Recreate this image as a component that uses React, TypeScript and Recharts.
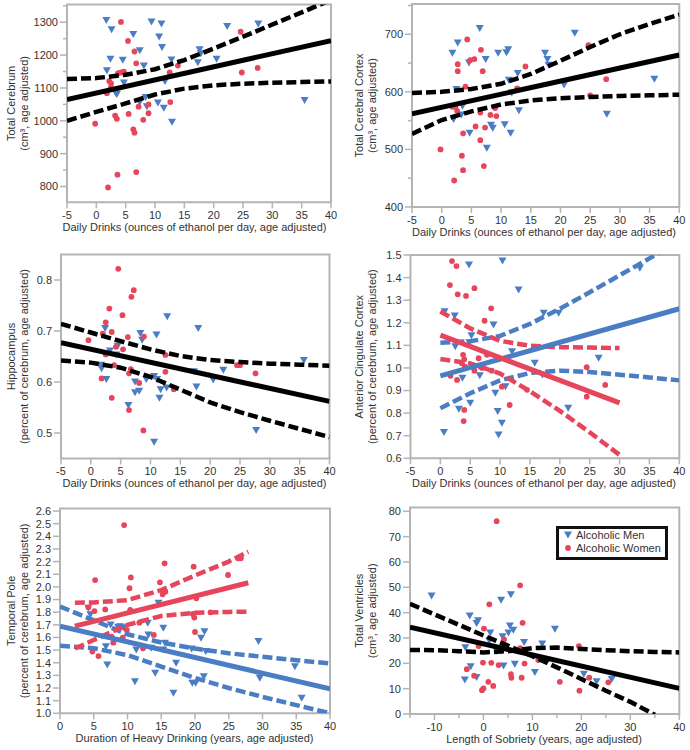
import React from 'react';
import { ScatterChart, Scatter, XAxis, YAxis, ReferenceArea } from 'recharts';

const FONT = '"Liberation Sans", Arial, Helvetica, sans-serif';
const AXIS = '#b4b4b4';
const TXT = '#333333';
const BLUE = '#4a7dc4';
const RED = '#e6455b';
const BLACK = '#000000';

// ---------- Panel 1: Total Cerebrum ----------
const p1Men = [[1.7,1305],[2.6,1277],[2.4,1187],[1.8,1152],[3.3,1084],[3.5,1080],[4.5,1184],[4.7,1115],[6.3,1263],[7.4,1213],[8.1,1167],[7.4,1056],[8.4,1071],[8.6,1043],[9.4,1301],[10.7,1255],[11.1,1295],[11.2,1223],[10.5,1054],[11.5,1038],[11.7,1120],[12.8,1185],[12.9,996],[17.3,1177],[17.6,1216],[17.8,1204],[20.5,1187],[22.3,1287],[27.6,1295],[35.5,1062]];
const p1Women = [[4.2,1301],[5.4,1243],[6.5,1211],[6.8,1175],[3.7,1145],[4.2,1147],[4.7,1150],[2.2,1121],[2.5,1114],[2.5,1102],[1.8,1084],[-0.2,991],[3.2,1016],[3.5,1006],[5.5,1021],[7.2,1043],[8.9,1050],[8.9,1023],[8.0,1003],[6.3,974],[6.5,964],[3.6,836],[6.8,844],[2.0,797],[12.5,1147],[12.6,1057],[13.9,1168],[24.6,1271],[24.8,1147],[27.5,1161]];
const p1Fit = [[-5,1065],[40,1244]];
const p1Upper = [[-5,1127],[0,1130],[5,1140],[10,1157],[15,1185],[20,1220],[25,1256],[30,1293],[35,1330],[40,1368]];
const p1Lower = [[-5,1000],[0,1027],[5,1053],[10,1080],[15,1098],[20,1108],[25,1113],[30,1116],[35,1118],[40,1120]];
const p1XTicks = [-5,0,5,10,15,20,25,30,35,40];
const p1YTicks = [800,900,1000,1100,1200,1300];
const p1YMinor = [850,950,1050,1150,1250,1350];

// ---------- Panel 2: Total Cerebral Cortex ----------
const p2Men = [[1.8,667],[2.7,685],[2.5,604],[2.0,552],[3.5,575],[3.3,560],[4.6,650],[4.7,528],[6.4,710],[7.4,656],[7.6,502],[9.5,667],[8.3,542],[8.6,537],[10.9,668],[11.2,673],[11.3,620],[10.6,543],[11.6,528],[11.8,598],[12.8,632],[13.0,567],[17.4,667],[17.8,656],[18.0,646],[20.6,612],[22.4,702],[27.8,561],[35.8,622]];
const p2Women = [[4.3,691],[6.6,673],[5.5,657],[4.8,655],[2.7,648],[2.7,636],[6.9,636],[4.0,609],[1.8,574],[2.3,574],[2.6,567],[6.5,564],[3.6,528],[5.7,540],[7.3,538],[8.2,560],[9.0,572],[9.2,558],[6.5,516],[-0.2,500],[3.4,489],[3.6,464],[7.1,471],[2.1,446],[12.7,606],[14.1,644],[24.7,681],[25.0,594],[27.7,622]];
const p2Fit = [[-5,562],[40,664]];
const p2Upper = [[-5,598],[0,600],[5,605],[10,614],[15,631],[20,654],[25,678],[30,700],[35,718],[40,734]];
const p2Lower = [[-5,527],[0,551],[5,566],[10,578],[15,585],[20,589],[25,591],[30,593],[35,594],[40,595]];
const p2XTicks = [-5,0,5,10,15,20,25,30,35,40];
const p2YTicks = [400,500,600,700];
const p2YMinor = [450,550,650,750];

// ---------- Panel 3: Hippocampus ----------
const p3Men = [[2.4,0.705],[1.7,0.633],[1.8,0.626],[2.6,0.605],[3.2,0.661],[4.5,0.670],[4.3,0.653],[6.3,0.554],[7.4,0.600],[7.4,0.579],[8.1,0.582],[8.3,0.695],[8.6,0.682],[9.3,0.605],[10.6,0.611],[11.1,0.605],[11.0,0.692],[11.5,0.568],[11.7,0.585],[12.7,0.588],[12.8,0.728],[10.6,0.482],[17.3,0.620],[17.7,0.590],[18.0,0.705],[20.5,0.604],[22.2,0.623],[27.7,0.505],[35.7,0.642]];
const p3Women = [[4.6,0.822],[7.2,0.780],[6.8,0.767],[3.1,0.744],[5.3,0.731],[2.5,0.717],[3.5,0.698],[2.0,0.695],[-0.4,0.682],[6.2,0.688],[8.9,0.689],[4.2,0.669],[5.4,0.664],[2.5,0.654],[3.9,0.633],[6.7,0.625],[6.4,0.617],[1.8,0.607],[8.1,0.598],[3.5,0.569],[6.4,0.545],[8.8,0.505],[12.5,0.653],[12.5,0.620],[13.9,0.586],[24.5,0.633],[25.0,0.633],[27.6,0.617]];
const p3Fit = [[-5,0.677],[40,0.562]];
const p3Upper = [[-5,0.714],[0,0.697],[5,0.680],[10,0.664],[15,0.651],[20,0.643],[25,0.639],[30,0.636],[35,0.634],[40,0.632]];
const p3Lower = [[-5,0.642],[0,0.638],[5,0.628],[10,0.610],[15,0.585],[20,0.560],[25,0.541],[30,0.524],[35,0.508],[40,0.492]];
const p3XTicks = [-5,0,5,10,15,20,25,30,35,40];
const p3YTicks = [0.5,0.6,0.7,0.8];

// ---------- Panel 4: Anterior Cingulate Cortex ----------
const p4Men = [[0.6,0.714],[0.7,1.249],[2.4,1.230],[2.5,1.094],[3.1,0.817],[3.7,0.954],[4.8,1.456],[5.0,0.844],[5.2,1.142],[4.85,1.112],[6.6,0.965],[8.9,1.19],[9.2,0.888],[9.6,0.807],[9.75,0.703],[10.3,0.755],[10.4,1.473],[10.9,0.917],[12.0,1.072],[13.1,1.345],[15.8,1.021],[17.3,1.242],[17.1,0.969],[19.8,1.242],[21.4,0.822],[26.5,1.043],[33.4,1.441]];
const p4Women = [[1.95,1.473],[2.7,1.451],[1.6,1.367],[2.9,1.326],[4.3,1.319],[5.7,1.353],[8.5,1.264],[7.4,1.209],[3.8,1.058],[4.0,1.038],[3.6,1.021],[4.1,1.006],[5.7,0.988],[6.7,1.006],[6.4,1.043],[7.0,1.0],[7.8,1.058],[8.6,0.988],[1.7,0.965],[2.8,0.947],[4.0,0.814],[3.9,0.765],[10.3,0.917],[11.6,0.836],[14.5,0.903],[24.5,1.003],[24.5,0.873],[27.6,0.925]];
const p4MenFit = [[0,0.965],[40,1.262]];
const p4MenUpper = [[0,1.112],[5,1.118],[10,1.142],[15,1.195],[20,1.262],[25,1.335],[30,1.41],[35,1.485],[40,1.56]];
const p4MenLower = [[0,0.822],[5,0.888],[10,0.945],[15,0.978],[20,0.988],[25,0.982],[30,0.97],[35,0.958],[40,0.945]];
const p4WomenFit = [[0,1.145],[30,0.845]];
const p4WomenUpper = [[0,1.25],[5,1.175],[10,1.12],[15,1.098],[20,1.092],[25,1.09],[30,1.088]];
const p4WomenLower = [[0,1.04],[5,1.02],[10,0.975],[15,0.897],[20,0.81],[25,0.715],[30,0.615]];
const p4XTicks = [-5,0,5,10,15,20,25,30,35,40];
const p4YTicks = [0.6,0.7,0.8,0.9,1.0,1.1,1.2,1.3,1.4,1.5];

// ---------- Panel 5: Temporal Pole ----------
const p5Men = [[4.2,1.83],[4.5,1.78],[6.0,1.725],[7.5,1.699],[8.6,1.68],[8.9,1.685],[9.4,1.677],[6.8,1.527],[7.0,1.382],[11.1,1.25],[11.3,1.5],[13.0,1.712],[13.1,1.62],[13.5,1.514],[14.1,1.316],[14.6,1.87],[15.3,1.672],[15.55,1.554],[15.3,1.5],[16.8,1.158],[17.2,1.395],[19.5,1.509],[19.6,1.237],[20.1,1.237],[20.9,1.593],[21.4,1.646],[21.6,1.488],[21.3,1.29],[29.4,1.567],[29.6,1.277],[34.8,1.369],[35.8,1.119]];
const p5Women = [[9.5,2.489],[15.5,2.186],[19.8,2.16],[5.2,2.054],[10.5,2.075],[10.3,1.989],[14.8,2.036],[24.9,2.094],[26.4,2.226],[26.8,2.226],[15.2,1.941],[15.6,1.962],[20.2,1.91],[4.2,1.838],[5.1,1.809],[6.7,1.822],[10.4,1.817],[19.7,1.786],[19.9,1.757],[22.3,1.799],[11.75,1.717],[7.65,1.606],[9.3,1.598],[7.9,1.559],[13.9,1.62],[20.0,1.643],[12.3,1.514],[4.8,1.488],[5.7,1.453],[9.9,1.659]];
const p5MenFit = [[0,1.69],[40,1.193]];
const p5MenUpper = [[0,1.845],[5,1.735],[10,1.625],[15,1.56],[20,1.512],[25,1.475],[30,1.447],[35,1.42],[40,1.395]];
const p5MenLower = [[0,1.535],[5,1.515],[10,1.46],[15,1.37],[20,1.28],[25,1.2],[30,1.13],[35,1.065],[40,1.0]];
const p5WomenFit = [[2.2,1.69],[27.9,2.033]];
const p5WomenUpper = [[2.2,1.875],[5,1.877],[10,1.895],[15,1.975],[20,2.09],[25,2.2],[27.9,2.278]];
const p5WomenLower = [[2.2,1.512],[5,1.58],[10,1.70],[15,1.77],[20,1.795],[25,1.802],[27.9,1.804]];
const p5XTicks = [0,5,10,15,20,25,30,35,40];
const p5YTicks = [1.0,1.1,1.2,1.3,1.4,1.5,1.6,1.7,1.8,1.9,2.0,2.1,2.2,2.3,2.4,2.5,2.6];

// ---------- Panel 6: Total Ventricles ----------
const p6Men = [[-10.6,46.6],[-2.8,38.7],[-1.1,36.8],[-1.4,35.7],[-3.7,26.1],[-3.8,13.4],[-2.6,18.6],[-1.4,14.4],[-0.9,26.9],[1.4,32.0],[1.2,28.9],[2.7,24.8],[3.6,44.9],[3.9,30.5],[3.7,24.9],[4.1,18.9],[5.6,47.1],[5.4,34.7],[5.1,32.0],[6.1,33.1],[6.4,19.6],[8.3,28.2],[10.5,16.4],[12.0,27.6],[14.6,33.4],[20.5,15.7],[23.1,12.7],[26.2,13.6]];
const p6Women = [[2.7,76.1],[7.5,50.8],[1.2,43.3],[8.0,36.0],[0.1,33.7],[4.2,29.4],[7.5,26.0],[-1.0,26.8],[19.5,26.8],[-3.4,17.7],[-1.9,15.1],[-0.1,20.3],[1.6,20.2],[3.1,19.3],[8.4,19.9],[11.2,21.3],[12.9,21.3],[5.6,15.7],[5.7,14.3],[7.8,14.3],[1.0,12.7],[2.0,11.1],[0.0,10.1],[-0.3,9.4],[15.6,12.7],[19.6,9.2],[21.6,14.3],[25.5,12.5]];
const p6Fit = [[-15,34.3],[40,10.1]];
const p6BandA = [[-15,43.5],[-10,39.3],[-5,35.2],[0,31.0],[5,27.0],[10,22.8],[15,18.4],[20,13.8],[25,9.2],[30,4.8],[35,-0.3]];
const p6BandB = [[-15,25.3],[-10,25.2],[-5,24.8],[0,24.3],[5,24.8],[10,26.0],[15,26.2],[20,25.7],[25,25.2],[30,24.8],[35,24.5],[40,24.3]];
const p6XTicks = [-10,0,10,20,30,40];
const p6XMinor = [-15,-5,5,15,25,35];
const p6YTicks = [0,10,20,30,40,50,60,70,80];

const legendLabels = ['Alcoholic Men', 'Alcoholic Women'];

// ---------- helpers ----------
const toPts = (a: number[][]) => a.map(([x, y]) => ({ x, y }));
const isIn = (arr: number[], v: number) => arr.some((m) => Math.abs(m - v) < 1e-9);

const Tri = (p: any) => (
  <path d={`M${p.cx - 4},${p.cy - 3.5}L${p.cx + 4},${p.cy - 3.5}L${p.cx},${p.cy + 3.5}Z`} fill={BLUE} />
);
const Dot = (p: any) => <circle cx={p.cx} cy={p.cy} r={2.9} fill={RED} />;
const NoShape = () => <g />;

type LineDef = { data: number[][]; color: string; dashed: boolean };
type PanelCfg = {
  left: number; top: number; pl: number; pr: number; pt: number; pb: number;
  xDomain: [number, number]; yDomain: [number, number];
  xTicks: number[]; xMinor: number[]; yTicks: number[]; yMinor: number[]; yDec: number;
  xLabel: string; yLabel1: string; yLabel2: string; ylx1: number; ylx2: number; xlc: number;
  men: number[][]; women: number[][]; lines: LineDef[];
};

const W = 345;
const H = 250;

function Panel({ c }: { c: PanelCfg }) {
  const xTick = (p: any) => {
    const v = p.payload.value;
    const major = isIn(c.xTicks, v);
    return (
      <g>
        <line x1={p.x} x2={p.x} y1={p.y} y2={p.y + (major ? 6 : 4)} stroke={AXIS} strokeWidth={1.5} />
        {major && (
          <text x={p.x} y={p.y + 16.5} textAnchor="middle" fontSize={11} fontFamily={FONT} fill={TXT}>
            {String(v)}
          </text>
        )}
      </g>
    );
  };
  const yTick = (p: any) => {
    const v = p.payload.value;
    const major = isIn(c.yTicks, v);
    return (
      <g>
        <line x1={p.x} x2={p.x - (major ? 7 : 4)} y1={p.y} y2={p.y} stroke={AXIS} strokeWidth={1.5} />
        {major && (
          <text x={p.x - 9} y={p.y} dy="0.36em" textAnchor="end" fontSize={11} fontFamily={FONT} fill={TXT}>
            {v.toFixed(c.yDec)}
          </text>
        )}
      </g>
    );
  };
  const xLabel = () => (
    <text x={c.xlc} y={c.pb + 28.5} textAnchor="middle" fontSize={11} fontFamily={FONT} fill={TXT}>
      {c.xLabel}
    </text>
  );
  const cy = (c.pt + c.pb) / 2;
  const yLabel = () => (
    <g>
      <text x={c.ylx1} y={cy} transform={`rotate(-90 ${c.ylx1} ${cy})`} textAnchor="middle" fontSize={11} fontFamily={FONT} fill={TXT}>
        {c.yLabel1}
      </text>
      <text x={c.ylx2} y={cy} transform={`rotate(-90 ${c.ylx2} ${cy})`} textAnchor="middle" fontSize={11} fontFamily={FONT} fill={TXT}>
        {c.yLabel2}
      </text>
    </g>
  );
  const allX = [...c.xTicks, ...c.xMinor].sort((a, b) => a - b);
  const allY = [...c.yTicks, ...c.yMinor].filter((v) => v >= c.yDomain[0] && v <= c.yDomain[1]).sort((a, b) => a - b);
  return (
    <div style={{ position: 'absolute', left: c.left, top: c.top, width: W, height: H }}>
      <ScatterChart width={W} height={H} margin={{ top: c.pt, right: W - c.pr, bottom: 0, left: 0 }}>
        <XAxis
          type="number" dataKey="x" domain={c.xDomain} allowDataOverflow ticks={allX} interval={0}
          tickSize={0} tickMargin={0} tickLine={false} axisLine={false} height={H - c.pb}
          tick={xTick} label={xLabel}
        />
        <YAxis
          type="number" dataKey="y" domain={c.yDomain} allowDataOverflow ticks={allY} interval={0}
          tickSize={0} tickMargin={0} tickLine={false} axisLine={false} width={c.pl}
          tick={yTick} label={yLabel}
        />
        <ReferenceArea
          x1={c.xDomain[0]} x2={c.xDomain[1]} y1={c.yDomain[0]} y2={c.yDomain[1]}
          fill="none" fillOpacity={0} stroke={AXIS} strokeWidth={2} ifOverflow="visible"
        />
        <Scatter data={toPts(c.men)} shape={Tri} isAnimationActive={false} legendType="none" />
        <Scatter data={toPts(c.women)} shape={Dot} isAnimationActive={false} legendType="none" />
        {c.lines.map((l, i) => (
          <Scatter
            key={i}
            data={toPts(l.data)}
            shape={NoShape}
            line={l.dashed
              ? { stroke: l.color, strokeWidth: 4.5, strokeDasharray: '10 4', fill: 'none' }
              : { stroke: l.color, strokeWidth: 5, fill: 'none' }}
            fill={l.color}
            isAnimationActive={false}
            legendType="none"
          />
        ))}
      </ScatterChart>
    </div>
  );
}

const DAILY = 'Daily Drinks (ounces of ethanol per day, age adjusted)';

const panels: PanelCfg[] = [
  {
    left: 0, top: 0, pl: 67, pr: 331, pt: 4.5, pb: 202.3, xDomain: [-5, 40], yDomain: [752, 1354],
    xTicks: p1XTicks, xMinor: [], yTicks: p1YTicks, yMinor: p1YMinor, yDec: 0,
    xLabel: DAILY, yLabel1: 'Total Cerebrum', yLabel2: '(cm³, age adjusted)', ylx1: 15, ylx2: 28, xlc: 194.5,
    men: p1Men, women: p1Women,
    lines: [{ data: p1Fit, color: BLACK, dashed: false }, { data: p1Upper, color: BLACK, dashed: true }, { data: p1Lower, color: BLACK, dashed: true }],
  },
  {
    left: 345, top: 0, pl: 67, pr: 334.3, pt: 4, pb: 207, xDomain: [-5, 40], yDomain: [400, 752.6],
    xTicks: p2XTicks, xMinor: [], yTicks: p2YTicks, yMinor: p2YMinor, yDec: 0,
    xLabel: DAILY, yLabel1: 'Total Cerebral Cortex', yLabel2: '(cm³, age adjusted)', ylx1: 18, ylx2: 31, xlc: 199,
    men: p2Men, women: p2Women,
    lines: [{ data: p2Fit, color: BLACK, dashed: false }, { data: p2Upper, color: BLACK, dashed: true }, { data: p2Lower, color: BLACK, dashed: true }],
  },
  {
    left: 0, top: 250, pl: 61, pr: 329.5, pt: 4.5, pb: 208.5, xDomain: [-5, 40], yDomain: [0.45, 0.85],
    xTicks: p3XTicks, xMinor: [], yTicks: p3YTicks, yMinor: [], yDec: 1,
    xLabel: DAILY, yLabel1: 'Hippocampus', yLabel2: '(percent of cerebrum, age adjusted)', ylx1: 15, ylx2: 28, xlc: 194.5,
    men: p3Men, women: p3Women,
    lines: [{ data: p3Fit, color: BLACK, dashed: false }, { data: p3Upper, color: BLACK, dashed: true }, { data: p3Lower, color: BLACK, dashed: true }],
  },
  {
    left: 345, top: 250, pl: 65.5, pr: 334.3, pt: 5, pb: 208.3, xDomain: [-5, 40], yDomain: [0.6, 1.5],
    xTicks: p4XTicks, xMinor: [], yTicks: p4YTicks, yMinor: [], yDec: 1,
    xLabel: DAILY, yLabel1: 'Anterior Cingulate Cortex', yLabel2: '(percent of cerebrum, age adjusted)', ylx1: 18, ylx2: 31, xlc: 199,
    men: p4Men, women: p4Women,
    lines: [
      { data: p4MenUpper, color: BLUE, dashed: true }, { data: p4MenLower, color: BLUE, dashed: true },
      { data: p4WomenUpper, color: RED, dashed: true }, { data: p4WomenLower, color: RED, dashed: true },
      { data: p4MenFit, color: BLUE, dashed: false }, { data: p4WomenFit, color: RED, dashed: false },
    ],
  },
  {
    left: 0, top: 500, pl: 60, pr: 330, pt: 8.5, pb: 213.3, xDomain: [0, 40], yDomain: [1.0, 2.62],
    xTicks: p5XTicks, xMinor: [], yTicks: p5YTicks, yMinor: [], yDec: 1,
    xLabel: 'Duration of Heavy Drinking (years, age adjusted)', yLabel1: 'Temporal Pole', yLabel2: '(percent of cerebrum, age adjusted)', ylx1: 15, ylx2: 28, xlc: 194.5,
    men: p5Men, women: p5Women,
    lines: [
      { data: p5MenUpper, color: BLUE, dashed: true }, { data: p5MenLower, color: BLUE, dashed: true },
      { data: p5WomenUpper, color: RED, dashed: true }, { data: p5WomenLower, color: RED, dashed: true },
      { data: p5MenFit, color: BLUE, dashed: false }, { data: p5WomenFit, color: RED, dashed: false },
    ],
  },
  {
    left: 345, top: 500, pl: 65, pr: 334.3, pt: 7.5, pb: 214, xDomain: [-15, 40], yDomain: [0, 81.5],
    xTicks: p6XTicks, xMinor: p6XMinor, yTicks: p6YTicks, yMinor: [], yDec: 0,
    xLabel: 'Length of Sobriety (years, age adjusted)', yLabel1: 'Total Ventricles', yLabel2: '(cm³, age adjusted)', ylx1: 18, ylx2: 31, xlc: 199,
    men: p6Men, women: p6Women,
    lines: [{ data: p6Fit, color: BLACK, dashed: false }, { data: p6BandA, color: BLACK, dashed: true }, { data: p6BandB, color: BLACK, dashed: true }],
  },
];

function LegendBox() {
  return (
    <svg style={{ position: 'absolute', left: 556, top: 526 }} width={112} height={34}>
      <rect x={1.5} y={1.5} width={109} height={31} fill="#fff" stroke="#111" strokeWidth={3} />
      <path d="M8,5.5L16,5.5L12,12.5Z" fill={BLUE} />
      <text x={20} y={13} fontSize={11} fontFamily={FONT} fill={TXT}>{legendLabels[0]}</text>
      <circle cx={12} cy={22} r={2.9} fill={RED} />
      <text x={20} y={26} fontSize={11} fontFamily={FONT} fill={TXT}>{legendLabels[1]}</text>
    </svg>
  );
}

export default function App() {
  return (
    <div style={{ position: 'absolute', left: 0, top: 0, width: 690, height: 750, background: '#fff', fontFamily: FONT }}>
      {panels.map((c, i) => (
        <Panel key={i} c={c} />
      ))}
      <LegendBox />
    </div>
  );
}
